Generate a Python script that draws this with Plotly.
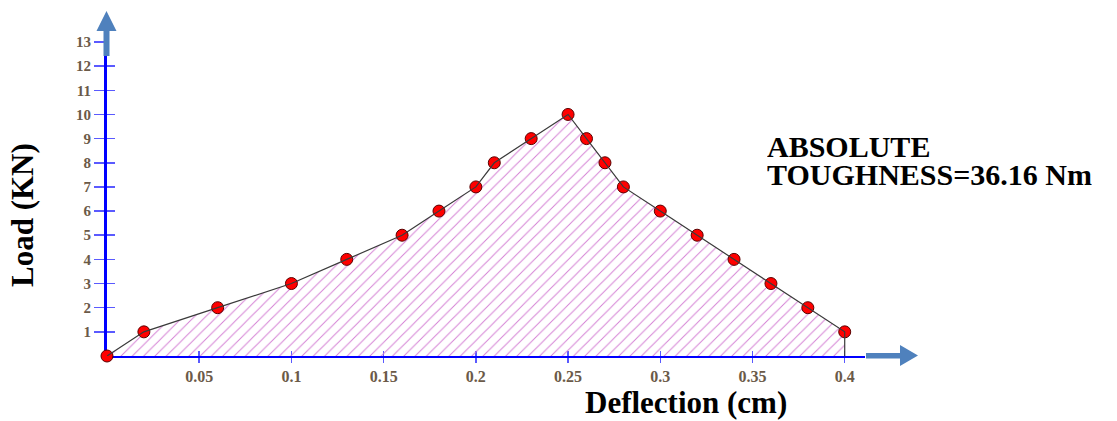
import plotly.graph_objects as go

# ---- data ----
deflection = [0, 0.02, 0.06, 0.10, 0.13, 0.16, 0.18, 0.20, 0.21, 0.23, 0.25,
              0.26, 0.27, 0.28, 0.30, 0.32, 0.34, 0.36, 0.38, 0.40]
load = [0, 1, 2, 3, 4, 5, 6, 7, 8, 9, 10,
        9, 8, 7, 6, 5, 4, 3, 2, 1]
x_ticks = [0.05, 0.1, 0.15, 0.2, 0.25, 0.3, 0.35, 0.4]
x_ticklabels = ["0.05", "0.1", "0.15", "0.2", "0.25", "0.3", "0.35", "0.4"]
y_ticks = list(range(1, 14))
y_ticklabels = [str(v) for v in y_ticks]

W, H = 1117, 421
L, R, T, B = 107, 252, 42, 65
PW, PH = W - L - R, H - T - B


def paper(px, py):
    return (px - L) / PW, (H - B - py) / PH


FONT = "Liberation Serif, Times New Roman, serif"
TICKFONT = dict(family=FONT, size=16, color="#6b5a48", weight="bold")
AXIS_BLUE = "#0000ff"
TICK_BLUE = "#5a5aff"
ARROW = "#4f81bd"

fig = go.Figure()

# hatched area
fig.add_trace(go.Scatter(
    x=deflection, y=load, mode="none", fill="tozeroy",
    fillcolor="rgba(0,0,0,0)",
    fillpattern=dict(shape="/", fgcolor="#d47fd4", bgcolor="rgba(0,0,0,0)",
                     size=8, solidity=0.12, fillmode="replace"),
    hoverinfo="skip", showlegend=False))

# markers
fig.add_trace(go.Scatter(
    x=deflection, y=load, mode="markers",
    marker=dict(size=12, color="#ff0000", line=dict(color="#5a0000", width=1)),
    cliponaxis=False, showlegend=False))

# connecting line (drawn on top of markers), closing down to the axis at the end
fig.add_trace(go.Scatter(
    x=deflection + [deflection[-1]], y=load + [0], mode="lines",
    line=dict(color="#3a3a3a", width=1.2),
    cliponaxis=False, showlegend=False, hoverinfo="skip"))

# dummy trace for the overlay axes (inside tick halves)
fig.add_trace(go.Scatter(x=[None], y=[None], xaxis="x2", yaxis="y2",
                         showlegend=False, hoverinfo="skip"))

fig.update_layout(
    width=W, height=H,
    margin=dict(l=L, r=R, t=T, b=B),
    paper_bgcolor="white", plot_bgcolor="white",
    showlegend=False,
    xaxis=dict(range=[0, 0.411], tickvals=x_ticks, ticktext=x_ticklabels,
               showgrid=False, zeroline=False, showline=True,
               linecolor=AXIS_BLUE, linewidth=2,
               ticks="outside", ticklen=5, tickwidth=1.5, tickcolor=TICK_BLUE,
               tickfont=TICKFONT, layer="below traces", fixedrange=True),
    yaxis=dict(range=[0, 13], tickvals=y_ticks, ticktext=y_ticklabels,
               showgrid=False, zeroline=False, showline=True,
               linecolor=AXIS_BLUE, linewidth=3,
               ticks="outside", ticklen=10, tickwidth=1.5, tickcolor=TICK_BLUE,
               tickfont=dict(TICKFONT, size=15), layer="below traces",
               fixedrange=True),
    xaxis2=dict(overlaying="x", side="bottom", anchor="y2", range=[0, 0.411],
                tickvals=x_ticks, showticklabels=False, showgrid=False,
                zeroline=False, showline=False, ticks="inside", ticklen=5,
                tickwidth=1.5, tickcolor=TICK_BLUE, layer="below traces"),
    yaxis2=dict(overlaying="y", side="left", anchor="x2", range=[0, 13],
                tickvals=y_ticks, showticklabels=False, showgrid=False,
                zeroline=False, showline=False, ticks="inside", ticklen=8,
                tickwidth=1.5, tickcolor=TICK_BLUE, layer="below traces"),
)

# arrows as paper-coordinate shapes
def poly(points):
    pts = [paper(px, py) for px, py in points]
    return "M " + " L ".join(f"{x:.5f},{y:.5f}" for x, y in pts) + " Z"

y_arrow = [(103.5, 56), (109.5, 56), (109.5, 31), (116.5, 31), (106.5, 11),
           (96.5, 31), (103.5, 31)]
x_arrow = [(866, 353), (900, 353), (900, 345), (918, 355.5), (900, 366),
           (900, 358.5), (866, 358.5)]
for pts in (y_arrow, x_arrow):
    fig.add_shape(type="path", xref="paper", yref="paper", path=poly(pts),
                  fillcolor=ARROW, line=dict(width=0), layer="above")

# texts
def text(s, px, py, size, xanchor="center", angle=0, height=None):
    x, y = paper(px, py)
    fig.add_annotation(text=s, x=x, y=y, xref="paper", yref="paper",
                       xanchor=xanchor, yanchor="middle", showarrow=False,
                       textangle=angle, height=height, borderpad=0,
                       font=dict(family=FONT, size=size, color="black",
                                 weight="bold"))

text("ABSOLUTE", 766, 146, 30, xanchor="left", height=26)
text("TOUGHNESS=36.16 Nm", 766, 174, 30, xanchor="left", height=26)
text("Load (KN)", 22, 215, 31, angle=-90)
text("Deflection (cm)", 686, 402, 31)

fig.write_html("out.html",
               config={"displayModeBar": False, "staticPlot": True},
               post_script="document.body.style.margin='0';"
                           "document.body.style.overflow='hidden';")
